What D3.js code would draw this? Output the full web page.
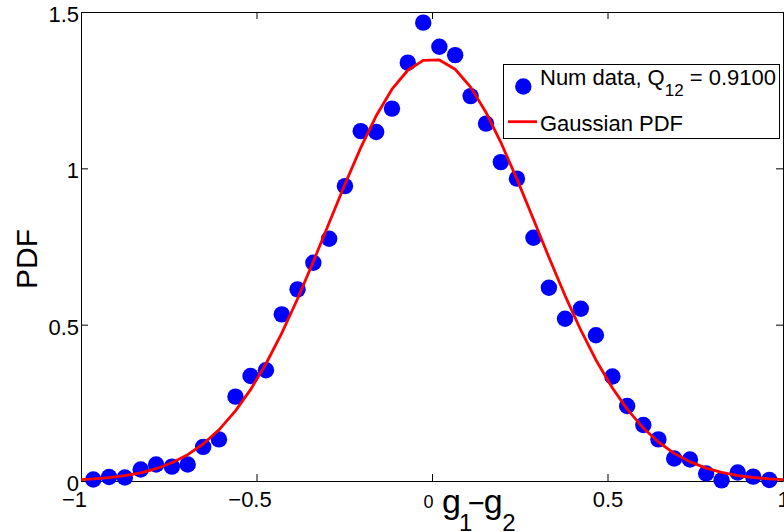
<!DOCTYPE html>
<html><head><meta charset="utf-8">
<script src="https://cdn.jsdelivr.net/npm/d3@7"></script>
<style>html,body{margin:0;padding:0;background:#fff;} svg{display:block;}</style>
</head><body>
<svg id="chart" width="784" height="532"></svg>
<script>
// ---- data ----
const binCenters = [-0.965,-0.920,-0.875,-0.830,-0.786,-0.741,-0.696,-0.652,-0.607,-0.560,-0.517,-0.473,-0.428,-0.383,-0.338,-0.293,-0.248,-0.203,-0.159,-0.114,-0.069,-0.025,0.021,0.066,0.110,0.154,0.196,0.242,0.289,0.333,0.379,0.424,0.467,0.514,0.556,0.602,0.645,0.690,0.735,0.781,0.825,0.871,0.915,0.961];
const pdfValues = [0.005,0.013,0.011,0.037,0.053,0.046,0.053,0.109,0.133,0.270,0.336,0.354,0.533,0.613,0.698,0.775,0.943,1.119,1.116,1.191,1.338,1.466,1.389,1.362,1.231,1.143,1.020,0.967,0.778,0.618,0.519,0.551,0.466,0.334,0.240,0.179,0.133,0.072,0.069,0.024,0.002,0.027,0.014,0.003];
const gaussX = [-1].concat(binCenters, [1]);
const gaussY = [0.0044,0.0065,0.0106,0.0169,0.0261,0.0393,0.0582,0.0843,0.1183,0.1636,0.2241,0.2921,0.3750,0.4729,0.5828,0.7020,0.8258,0.9493,1.0662,1.1680,1.2532,1.3137,1.3452,1.3466,1.3168,1.2597,1.1786,1.0834,0.9654,0.8369,0.7155,0.5931,0.4822,0.3872,0.2974,0.2299,0.1694,0.1247,0.0884,0.0612,0.0411,0.0274,0.0175,0.0112,0.0068,0.0044];
const xTicks = [-1,-0.5,0,0.5,1];
const xTickLabels = ["\u22121","\u22120.5","0","0.5","1"];
const yTicks = [0,0.5,1,1.5];
const yTickLabels = ["0","0.5","1","1.5"];
const seriesNames = ["Num data, Q", "12", " = 0.9100", "Gaussian PDF"];

const FONT = "'Liberation Sans', Arial, Helvetica, sans-serif";
const svg = d3.select("#chart").style("font-family", FONT);

const x = d3.scaleLinear().domain([-1, 1]).range([81, 783]);
const y = d3.scaleLinear().domain([0, 1.5]).range([481, 12]);

function styleAxis(g){
  g.attr("font-family", FONT).attr("color", "#000");
  g.selectAll("path.domain").attr("stroke", "#000").attr("stroke-width", 1);
  g.selectAll(".tick line").attr("stroke", "#000").attr("stroke-width", 1);
}

// bottom axis
const gx = svg.append("g").attr("transform", "translate(0,481)")
  .call(d3.axisBottom(x).tickValues(xTicks).tickSizeInner(-7).tickSizeOuter(0)
        .tickFormat((d,i) => xTickLabels[i]));
styleAxis(gx);
gx.attr("font-size", 22);
gx.selectAll(".tick text").attr("fill", "#000").attr("y", 25.5).attr("dy", 0)
  .attr("dx", d => d < 0 ? -7 : (d === 0 ? -4 : 0))
  .attr("font-size", d => d === 0 ? 18 : 22)
  .attr("y", d => d === 0 ? 27 : 25.5);

// top axis
const gt = svg.append("g").attr("transform", "translate(0,12)")
  .call(d3.axisTop(x).tickValues(xTicks).tickSizeInner(-7).tickSizeOuter(0).tickFormat(""));
styleAxis(gt);

// left axis
const gy = svg.append("g").attr("transform", "translate(81,0)")
  .call(d3.axisLeft(y).tickValues(yTicks).tickSizeInner(-7).tickSizeOuter(0)
        .tickFormat((d,i) => yTickLabels[i]));
styleAxis(gy);
gy.attr("font-size", 22);
gy.selectAll(".tick text").attr("fill", "#000").attr("x", -2).attr("dy", 9.5);

// right axis
const gr = svg.append("g").attr("transform", "translate(783,0)")
  .call(d3.axisRight(y).tickValues(yTicks).tickSizeInner(-7).tickSizeOuter(0).tickFormat(""));
styleAxis(gr);

// data points
svg.append("g").selectAll("circle").data(binCenters).join("circle")
  .attr("cx", d => x(d)).attr("cy", (d,i) => y(pdfValues[i]))
  .attr("r", 8.2).attr("fill", "#0000ff");

// gaussian line
const line = d3.line().x((d,i) => x(gaussX[i])).y(d => y(d));
svg.append("path").datum(gaussY).attr("d", line)
  .attr("fill", "none").attr("stroke", "#ff0000").attr("stroke-width", 2.8)
  .attr("stroke-linejoin", "round");

// axis labels
svg.append("text").attr("transform", "translate(37,259) rotate(-90)")
  .attr("text-anchor", "middle").attr("font-size", 30).attr("fill", "#000").text("PDF");

const xl = svg.append("g").attr("fill", "#000");
xl.append("text").attr("x", 442).attr("y", 513).attr("font-size", 34).text("g");
xl.append("text").attr("x", 459).attr("y", 530.5).attr("font-size", 24).text("1");
xl.append("text").attr("x", 468).attr("y", 513).attr("font-size", 29).text("\u2212");
xl.append("text").attr("x", 483.8).attr("y", 513).attr("font-size", 34).text("g");
xl.append("text").attr("x", 502.3).attr("y", 530.5).attr("font-size", 24).text("2");

// legend
const lg = svg.append("g");
lg.append("rect").attr("x", 503.5).attr("y", 64.5).attr("width", 276).attr("height", 74)
  .attr("fill", "#fff").attr("stroke", "#000").attr("stroke-width", 1);
lg.append("circle").attr("cx", 523.3).attr("cy", 86.5).attr("r", 8.2).attr("fill", "#0000ff");
lg.append("line").attr("x1", 508).attr("x2", 537).attr("y1", 121.7).attr("y2", 121.7)
  .attr("stroke", "#ff0000").attr("stroke-width", 2.8);
const t1 = lg.append("text").attr("x", 540).attr("y", 85).attr("font-size", 22).attr("fill", "#000");
t1.append("tspan").text(seriesNames[0]);
t1.append("tspan").attr("font-size", 17).attr("dy", 10.5).text(seriesNames[1]);
t1.append("tspan").attr("dy", -10.5).text(seriesNames[2]);
lg.append("text").attr("x", 540).attr("y", 130.5).attr("font-size", 22).attr("fill", "#000").text(seriesNames[3]);
</script>
</body></html>
